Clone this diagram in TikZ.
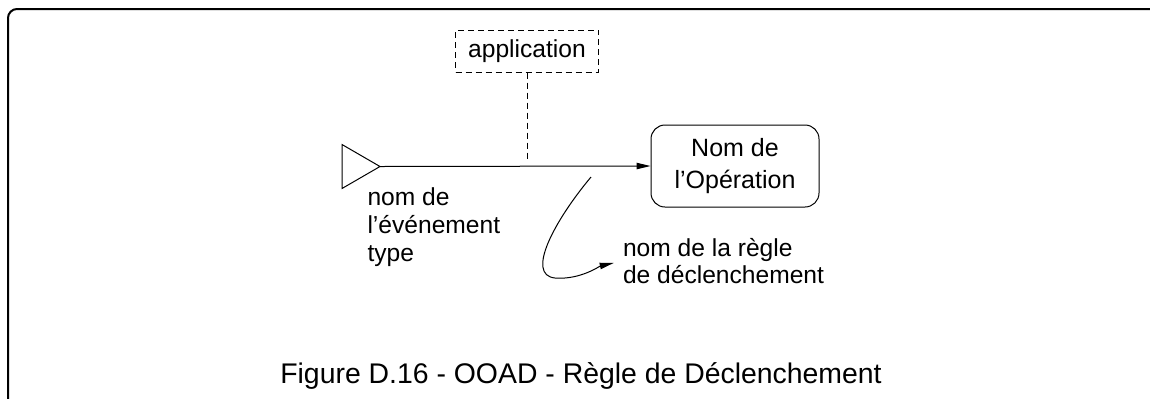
\documentclass[tikz,border=0pt]{standalone}
\usepackage{fontspec}
\setmainfont{Liberation Sans}
\usetikzlibrary{arrows.meta,positioning,shapes.geometric}

\begin{document}
\begin{tikzpicture}[
        x=0.5pt, y=-0.5pt, line width=0.5pt,
        lbl/.style={font=\fontsize{12.3}{13.8}\selectfont, align=left,
                    inner sep=0pt, anchor=north west},
        opbox/.style={draw, rounded corners=7pt, align=center,
                      font=\fontsize{12.5}{15.8}\selectfont,
                      minimum width=84pt, minimum height=41pt, inner sep=0pt},
        appbox/.style={draw, dash pattern=on 3pt off 2pt, align=center,
                       font=\fontsize{12.3}{13.8}\selectfont,
                       minimum width=71.5pt, minimum height=21pt, inner sep=0pt},
        evt/.style={draw, isosceles triangle, isosceles triangle stretches,
                    minimum width=22pt, minimum height=19pt,
                    inner sep=0pt, outer sep=0pt},
        conn/.style={-{Triangle[length=7pt,width=3.2pt]}},
        frame/.style={line width=1pt, rounded corners=4.5pt}
      ]
        \useasboundingbox (0,0) rectangle (1150,398);
        \draw[frame] (8,402) -- (8,9) -- (1154,9);
        \node[evt, anchor=apex] (event) at (380,166.5) {};
        \node[opbox] (oper) at (735,166) {Nom de\\l'Opération};
        \node[appbox] (app) at (527,51) {application};
        \coordinate (appEnd) at (527,160);
        \coordinate (ruleStart) at (591,177);
        \node[lbl] (evname) at (367,187.5) {nom de\\l'événement\\type};
        \node[lbl] (rule) at (622.5,237.5) {nom de la règle\\de déclenchement};
        \node[font=\fontsize{14.2}{17}\selectfont, anchor=base, inner sep=0pt]
           (caption) at (581,383) {Figure D.16 - OOAD - Règle de Déclenchement};
        \draw[conn] (event.apex) -- (oper.west);
        \draw[dash pattern=on 3pt off 2pt] (app.south) -- (appEnd);
        \draw[conn, shorten >=4.5pt] (ruleStart)
           .. controls (555,220) and (525,275) .. (555,278)
           .. controls (580,280) and (600,266) .. (rule.west);
      \end{tikzpicture}
\end{document}
